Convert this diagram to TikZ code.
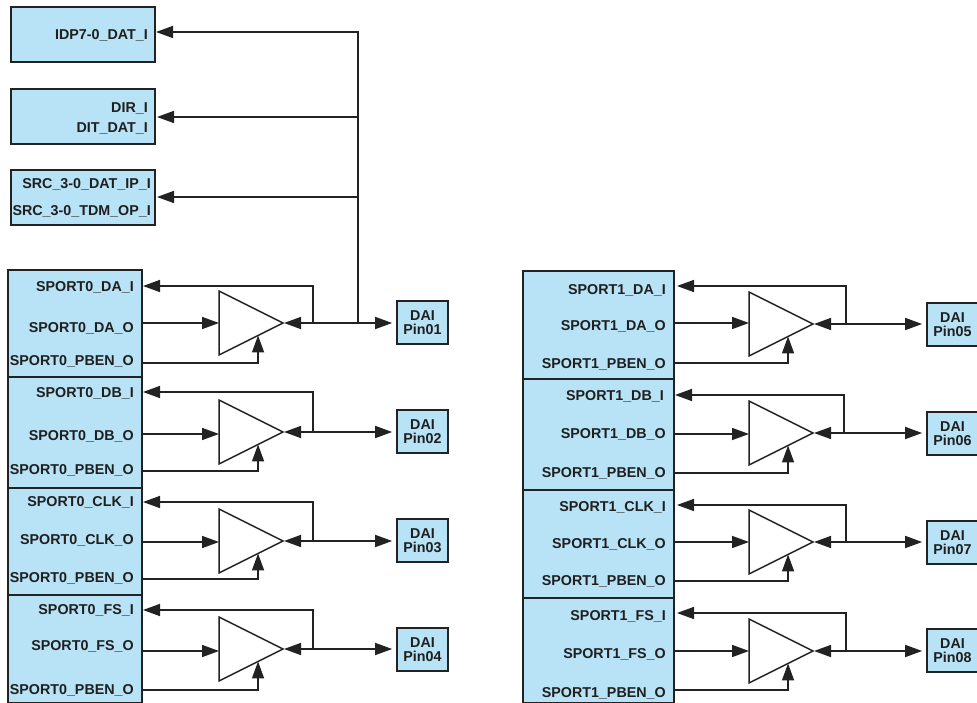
\documentclass[tikz,border=0pt]{standalone}
\usepackage{fontspec}
\setmainfont{Liberation Sans}
\usepackage{xcolor}
\usetikzlibrary{shapes.geometric, arrows.meta, calc}
\definecolor{dailight}{HTML}{B8E3F6}
\definecolor{dailine}{HTML}{222222}
\tikzstyle{arr}  = [-{Stealth[length=17pt,width=12pt,inset=0pt]}, line width=1.6pt, draw=dailine]
\tikzstyle{darr} = [{Stealth[length=17pt,width=12pt,inset=0pt]}-{Stealth[length=17pt,width=12pt,inset=0pt]}, line width=1.6pt, draw=dailine, shorten <=1pt, shorten >=4pt]

\begin{document}
\begin{tikzpicture}[
  x=1pt, y=-1pt,
  blk/.style={rectangle, draw=dailine, line width=1.7pt, fill=dailight, minimum width=#1, anchor=north west, inner sep=0pt},
  lbl/.style={anchor=east, inner sep=0pt, yshift=-1pt, text=black!88, font=\fontsize{14.3}{14}\selectfont\bfseries},
  tgt/.style={lbl, align=right},
  pin/.style={rectangle, draw=dailine, line width=1.7pt, fill=dailight, minimum width=51pt, minimum height=43pt, inner sep=0pt,
              align=center, text=black!88, font=\fontsize{14.3}{14}\selectfont\bfseries},
  buf/.style={isosceles triangle, isosceles triangle stretches, shape border rotate=0, draw=dailine, line width=1.5pt, fill=white,
              minimum width=64pt, minimum height=64pt, inner sep=0pt, outer sep=0pt, anchor=apex}
]
  \useasboundingbox (0,0) rectangle (977,703);

  % upper receivers
  \node[blk=144pt, minimum height=55pt] (idp) at (10,6) {};
  \node[blk=144pt, minimum height=55pt] (dir) at (10,88) {};
  \node[blk=144pt, minimum height=55pt] (src) at (10,169) {};
  \node[tgt] (idpl)  at (148,34)  {IDP7-0\_DAT\_I};
  \node[tgt] (dirl)  at (148,107) {DIR\_I};
  \node[tgt] (ditl)  at (148,127) {DIT\_DAT\_I};
  \node[tgt] (srcl)  at (151,183) {SRC\_3-0\_DAT\_IP\_I};
  \node[tgt] (tdml)  at (151,210) {SRC\_3-0\_TDM\_OP\_I};
  \coordinate (idpin) at (156,32);
  \coordinate (dirin) at (157,117);
  \coordinate (srcin) at (157,197);

  % SPORT0
  \node[blk=134pt, minimum height=107pt] (sp0a) at (7,269) {};
  \node[blk=134pt, minimum height=111pt] (sp0b) at (7,376) {};
  \node[blk=134pt, minimum height=107pt] (sp0c) at (7,487) {};
  \node[blk=134pt, minimum height=108pt] (sp0d) at (7,594) {};
  \node[lbl] (l0ai) at (134,286) {SPORT0\_DA\_I};
  \node[lbl] (l0ao) at (134,327) {SPORT0\_DA\_O};
  \node[lbl] (l0ap) at (134,360) {SPORT0\_PBEN\_O};
  \node[lbl] (l0bi) at (134,392) {SPORT0\_DB\_I};
  \node[lbl] (l0bo) at (134,435) {SPORT0\_DB\_O};
  \node[lbl] (l0bp) at (134,469) {SPORT0\_PBEN\_O};
  \node[lbl] (l0ci) at (134,501) {SPORT0\_CLK\_I};
  \node[lbl] (l0co) at (134,539) {SPORT0\_CLK\_O};
  \node[lbl] (l0cp) at (134,577) {SPORT0\_PBEN\_O};
  \node[lbl] (l0di) at (134,609) {SPORT0\_FS\_I};
  \node[lbl] (l0do) at (134,645) {SPORT0\_FS\_O};
  \node[lbl] (l0dp) at (134,689) {SPORT0\_PBEN\_O};

  % SPORT1
  \node[blk=151pt, minimum height=108pt] (sp1a) at (522,270) {};
  \node[blk=151pt, minimum height=111pt] (sp1b) at (522,378) {};
  \node[blk=151pt, minimum height=108pt] (sp1c) at (522,489) {};
  \node[blk=151pt, minimum height=105pt] (sp1d) at (522,597) {};
  \node[lbl] (l1ai) at (666,289) {SPORT1\_DA\_I};
  \node[lbl] (l1ao) at (666,325) {SPORT1\_DA\_O};
  \node[lbl] (l1ap) at (666,363) {SPORT1\_PBEN\_O};
  \node[lbl] (l1bi) at (664,395) {SPORT1\_DB\_I};
  \node[lbl] (l1bo) at (666,433) {SPORT1\_DB\_O};
  \node[lbl] (l1bp) at (666,472) {SPORT1\_PBEN\_O};
  \node[lbl] (l1ci) at (666,506) {SPORT1\_CLK\_I};
  \node[lbl] (l1co) at (666,543) {SPORT1\_CLK\_O};
  \node[lbl] (l1cp) at (666,580) {SPORT1\_PBEN\_O};
  \node[lbl] (l1di) at (666,615) {SPORT1\_FS\_I};
  \node[lbl] (l1do) at (666,653) {SPORT1\_FS\_O};
  \node[lbl] (l1dp) at (666,692) {SPORT1\_PBEN\_O};

  % buffers
  \node[buf] (b1) at (283,323) {};
  \node[buf] (b2) at (283,432) {};
  \node[buf] (b3) at (283,541) {};
  \node[buf] (b4) at (283,649) {};
  \node[buf] (b5) at (813,324) {};
  \node[buf] (b6) at (813,433) {};
  \node[buf] (b7) at (813,542) {};
  \node[buf] (b8) at (813,651) {};

  % pins
  \node[pin] (p1) at (422.5,322.5) {DAI\\Pin01};
  \node[pin] (p2) at (422.5,431.5) {DAI\\Pin02};
  \node[pin] (p3) at (422.5,540.5) {DAI\\Pin03};
  \node[pin] (p4) at (422.5,649.5) {DAI\\Pin04};
  \node[pin] (p5) at (952.5,324.5) {DAI\\Pin05};
  \node[pin] (p6) at (952.5,433.5) {DAI\\Pin06};
  \node[pin] (p7) at (952.5,542.5) {DAI\\Pin07};
  \node[pin] (p8) at (952.5,650.5) {DAI\\Pin08};

  % free ends at the blocks
  \coordinate (i1) at (143,286); \coordinate (o1) at (143,323); \coordinate (e1) at (141,363);
  \coordinate (i2) at (143,392); \coordinate (o2) at (143,434); \coordinate (e2) at (141,471);
  \coordinate (i3) at (143,502); \coordinate (o3) at (143,542); \coordinate (e3) at (141,579);
  \coordinate (i4) at (143,610); \coordinate (o4) at (143,651); \coordinate (e4) at (141,690);
  \coordinate (i5) at (677,286); \coordinate (o5) at (673,323); \coordinate (e5) at (673,363);
  \coordinate (i6) at (675,395); \coordinate (o6) at (673,434); \coordinate (e6) at (673,473);
  \coordinate (i7) at (677,505); \coordinate (o7) at (673,542); \coordinate (e7) at (673,581);
  \coordinate (i8) at (677,613); \coordinate (o8) at (673,651); \coordinate (e8) at (673,690);

  % feedback taps and enable points
  \coordinate (f1) at (313,323); \coordinate (f2) at (313,432); \coordinate (f3) at (313,541); \coordinate (f4) at (313,649);
  \coordinate (f5) at (846,324); \coordinate (f6) at (844,433); \coordinate (f7) at (846,542); \coordinate (f8) at (846,651);
  \coordinate (n1) at ($(b1.apex)!0.39!(b1.right corner)$); \coordinate (n2) at ($(b2.apex)!0.39!(b2.right corner)$);
  \coordinate (n3) at ($(b3.apex)!0.39!(b3.right corner)$); \coordinate (n4) at ($(b4.apex)!0.39!(b4.right corner)$);
  \coordinate (n5) at ($(b5.apex)!0.39!(b5.right corner)$); \coordinate (n6) at ($(b6.apex)!0.39!(b6.right corner)$);
  \coordinate (n7) at ($(b7.apex)!0.39!(b7.right corner)$); \coordinate (n8) at ($(b8.apex)!0.39!(b8.right corner)$);

  % connectors
  \draw[arr] (f1) |- (i1); \draw[arr] (o1) -- (o1 -| b1.lower side); \draw[arr] (e1) -| (n1); \draw[darr] (b1.apex) -- (b1.apex -| p1.west);
  \draw[arr] (f2) |- (i2); \draw[arr] (o2) -- (o2 -| b2.lower side); \draw[arr] (e2) -| (n2); \draw[darr] (b2.apex) -- (b2.apex -| p2.west);
  \draw[arr] (f3) |- (i3); \draw[arr] (o3) -- (o3 -| b3.lower side); \draw[arr] (e3) -| (n3); \draw[darr] (b3.apex) -- (b3.apex -| p3.west);
  \draw[arr] (f4) |- (i4); \draw[arr] (o4) -- (o4 -| b4.lower side); \draw[arr] (e4) -| (n4); \draw[darr] (b4.apex) -- (b4.apex -| p4.west);
  \draw[arr] (f5) |- (i5); \draw[arr] (o5) -- (o5 -| b5.lower side); \draw[arr] (e5) -| (n5); \draw[darr] (b5.apex) -- (b5.apex -| p5.west);
  \draw[arr] (f6) |- (i6); \draw[arr] (o6) -- (o6 -| b6.lower side); \draw[arr] (e6) -| (n6); \draw[darr] (b6.apex) -- (b6.apex -| p6.west);
  \draw[arr] (f7) |- (i7); \draw[arr] (o7) -- (o7 -| b7.lower side); \draw[arr] (e7) -| (n7); \draw[darr] (b7.apex) -- (b7.apex -| p7.west);
  \draw[arr] (f8) |- (i8); \draw[arr] (o8) -- (o8 -| b8.lower side); \draw[arr] (e8) -| (n8); \draw[darr] (b8.apex) -- (b8.apex -| p8.west);

  % bus to the upper receivers
  \coordinate (bus) at (358,323);
  \draw[arr] (bus) |- (idpin);
  \coordinate (busd) at (358,117); \coordinate (buss) at (358,197);
  \draw[arr] (busd) -- (dirin);
  \draw[arr] (buss) -- (srcin);
\end{tikzpicture}
\end{document}
